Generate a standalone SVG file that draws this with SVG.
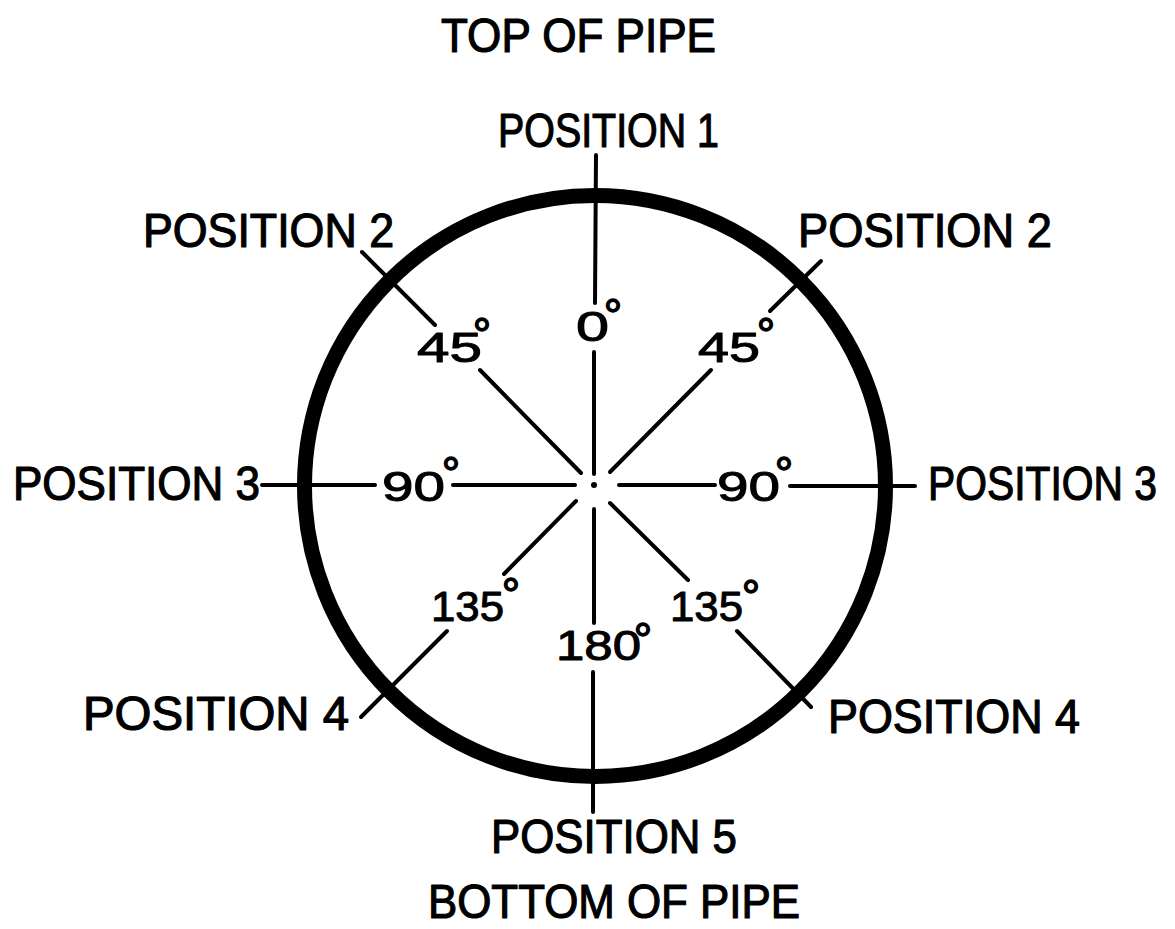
<svg xmlns="http://www.w3.org/2000/svg" width="1175" height="929" viewBox="0 0 1175 929">
<style>
.lbl{font-family:"Liberation Sans",Arial,sans-serif;font-size:48px;fill:#000;stroke:#000;stroke-width:1.2px;stroke-linejoin:round}
.deg{font-family:"Liberation Sans",Arial,sans-serif;font-size:43px;fill:#000;stroke:#000;stroke-width:1px;stroke-linejoin:round}
.ring{font-size:46px;stroke-width:1.4px}
.ln{stroke:#000;stroke-width:4;stroke-linecap:round;fill:none}
</style>
<rect width="1175" height="929" fill="#fff"/>
<g id="pipe">
<circle cx="595" cy="486" r="290.5" fill="none" stroke="#000" stroke-width="15"/>
<circle cx="594" cy="485" r="3" fill="#000"/>
</g>
<g id="connectors" class="ln">
<line x1="596" y1="155" x2="595" y2="303"/>
<line x1="594" y1="352" x2="594" y2="474"/>
<line x1="594" y1="509" x2="594" y2="623"/>
<line x1="593" y1="672" x2="593" y2="812"/>
<line x1="262" y1="485" x2="375" y2="485"/>
<line x1="453" y1="485" x2="575" y2="485"/>
<line x1="619" y1="485" x2="715" y2="485"/>
<line x1="790" y1="486" x2="915" y2="486"/>
<line x1="362" y1="252" x2="435" y2="325"/>
<line x1="480" y1="370" x2="581" y2="473"/>
<line x1="821" y1="261" x2="770" y2="311"/>
<line x1="711" y1="370" x2="610" y2="472"/>
<line x1="576" y1="501" x2="504" y2="574"/>
<line x1="447" y1="631" x2="361" y2="717"/>
<line x1="610" y1="503" x2="688" y2="580"/>
<line x1="737" y1="631" x2="811" y2="707"/>
</g>
<g id="title-top"><text class="lbl" x="441" y="52" font-size="45" textLength="275" lengthAdjust="spacingAndGlyphs">TOP OF PIPE</text></g>
<g id="title-bottom"><text class="lbl" x="428" y="918" textLength="372" lengthAdjust="spacingAndGlyphs">BOTTOM OF PIPE</text></g>
<g id="pos1"><text class="lbl" x="498" y="147" textLength="221" lengthAdjust="spacingAndGlyphs">POSITION 1</text></g>
<g id="pos2-left"><text class="lbl" x="143" y="247" textLength="251" lengthAdjust="spacingAndGlyphs">POSITION 2</text></g>
<g id="pos2-right"><text class="lbl" x="798" y="247" textLength="254" lengthAdjust="spacingAndGlyphs">POSITION 2</text></g>
<g id="pos3-left"><text class="lbl" x="13" y="500" textLength="247" lengthAdjust="spacingAndGlyphs">POSITION 3</text></g>
<g id="pos3-right"><text class="lbl" transform="translate(928,500) scale(0.85,1)" x="0" y="0">POSITION 3</text></g>
<g id="pos4-left"><text class="lbl" x="83" y="730" textLength="266" lengthAdjust="spacingAndGlyphs">POSITION 4</text></g>
<g id="pos4-right"><text class="lbl" x="828" y="733" textLength="252" lengthAdjust="spacingAndGlyphs">POSITION 4</text></g>
<g id="pos5"><text class="lbl" x="491" y="853" textLength="246" lengthAdjust="spacingAndGlyphs">POSITION 5</text></g>
<g id="deg0"><text class="deg" y="341"><tspan x="576" textLength="33" lengthAdjust="spacingAndGlyphs">0</tspan><tspan class="ring" x="603.8" y="331.5">°</tspan></text></g>
<g id="deg45-left"><text class="deg" y="362"><tspan x="417" textLength="65" lengthAdjust="spacingAndGlyphs">45</tspan><tspan class="ring" x="472.8" y="350.5">°</tspan></text></g>
<g id="deg45-right"><text class="deg" y="362"><tspan x="698" textLength="62" lengthAdjust="spacingAndGlyphs">45</tspan><tspan class="ring" x="756.8" y="350.5">°</tspan></text></g>
<g id="deg90-left"><text class="deg" y="501"><tspan x="382" textLength="63" lengthAdjust="spacingAndGlyphs">90</tspan><tspan class="ring" x="441.8" y="489.5">°</tspan></text></g>
<g id="deg90-right"><text class="deg" y="501"><tspan x="717" textLength="63" lengthAdjust="spacingAndGlyphs">90</tspan><tspan class="ring" x="774.8" y="489.5">°</tspan></text></g>
<g id="deg135-left"><text class="deg" y="621"><tspan x="431" textLength="73" lengthAdjust="spacingAndGlyphs">135</tspan><tspan class="ring" x="501.8" y="610.5">°</tspan></text></g>
<g id="deg135-right"><text class="deg" y="621"><tspan x="670" textLength="73" lengthAdjust="spacingAndGlyphs">135</tspan><tspan class="ring" x="741.8" y="612.5">°</tspan></text></g>
<g id="deg180"><text class="deg" y="660"><tspan x="556" textLength="85" lengthAdjust="spacingAndGlyphs">180</tspan><tspan class="ring" x="633.8" y="655.5">°</tspan></text></g>
</svg>
